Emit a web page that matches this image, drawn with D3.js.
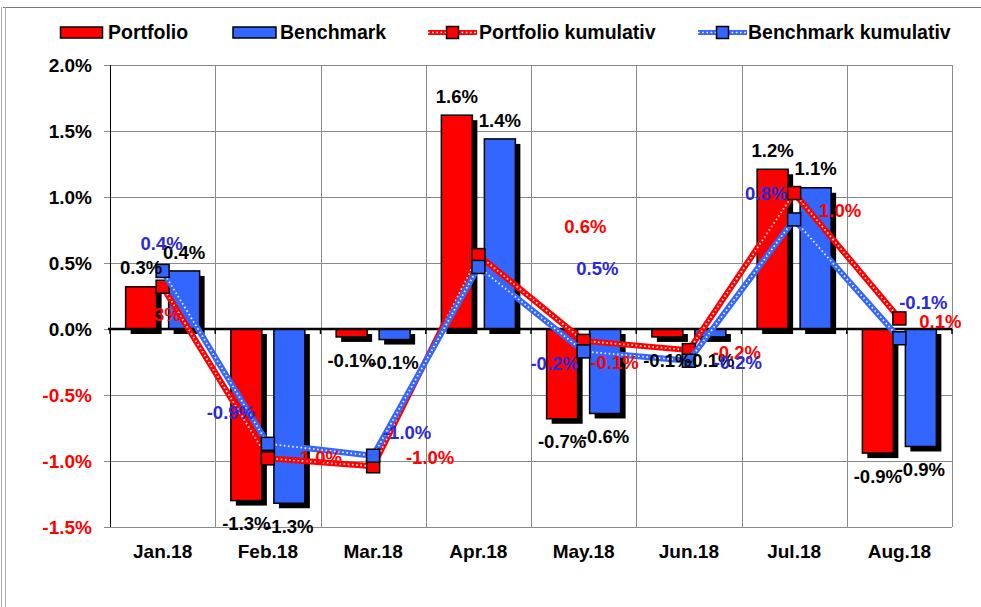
<!DOCTYPE html>
<html>
<head>
<meta charset="utf-8">
<script src="https://cdn.jsdelivr.net/npm/d3@7"></script>
<style>
  html, body { margin: 0; padding: 0; background: #fff; }
  svg { display: block; font-family: "Liberation Sans", Arial, Helvetica, sans-serif; font-weight: bold; }
</style>
</head>
<body>
<svg id="chart" width="981" height="607"></svg>
<script>
// ---- data ----
const categories = ["Jan.18", "Feb.18", "Mar.18", "Apr.18", "May.18", "Jun.18", "Jul.18", "Aug.18"];
const portfolio = [0.32, -1.30, -0.06, 1.62, -0.68, -0.06, 1.21, -0.94];
const benchmark = [0.44, -1.32, -0.08, 1.44, -0.64, -0.06, 1.07, -0.89];
const portfolioCum = [0.32, -0.98, -1.04, 0.56, -0.09, -0.16, 1.03, 0.08];
const benchmarkCum = [0.44, -0.87, -0.96, 0.47, -0.17, -0.24, 0.83, -0.07];
const yTicks = [-1.5, -1.0, -0.5, 0.0, 0.5, 1.0, 1.5, 2.0];
const legendLabels = ["Portfolio", "Benchmark", "Portfolio kumulativ", "Benchmark kumulativ"];
// label placement offsets (px) for the cumulative labels, relative to each marker
const portfolioCumLabelOffset = [[-3, 28], [50, -1], [57, -9], [107, -29], [31, 21], [48, 2], [46, 17], [41, 3]];
const benchmarkCumLabelOffset = [[-1, -28], [-37, -32], [34, -23], [119, 1], [-29, 12], [49, 2], [-28, -26], [24, -36]];

// ---- setup ----
const svg = d3.select("#chart");
const RED = "#ff0000", BLUE = "#3366ff", BLUE_TXT = "#2a2ad8";
const plot = { left: 110, right: 952, top: 65, bottom: 527 };
const fmt = d3.formatLocale({ decimal: ".", thousands: ",", grouping: [3], currency: ["", ""], minus: "-" }).format(".1%");
const pct = v => fmt(v / 100);

const x = d3.scaleBand().domain(categories).range([plot.left, plot.right]).padding(0);
const y = d3.scaleLinear().domain([-1.5, 2.0]).range([plot.bottom, plot.top]);
const cx = c => x(c) + x.bandwidth() / 2;
const barW = 31, barOff = 21.5, shadow = 5;

// frame
svg.append("line").attr("x1", 3).attr("x2", 981).attr("y1", 7.5).attr("y2", 7.5).attr("stroke", "#777").attr("stroke-width", 1);
svg.append("line").attr("x1", 1.5).attr("x2", 1.5).attr("y1", 7).attr("y2", 607).attr("stroke", "#aaa").attr("stroke-width", 1);
svg.append("line").attr("x1", 5.5).attr("x2", 5.5).attr("y1", 7).attr("y2", 607).attr("stroke", "#aaa").attr("stroke-width", 1);

// gridlines
const grid = svg.append("g").attr("stroke", "#8a8a8a").attr("stroke-width", 1);
yTicks.forEach(t => {
  grid.append("line").attr("x1", plot.left - 6).attr("x2", plot.right)
    .attr("y1", Math.round(y(t)) + 0.5).attr("y2", Math.round(y(t)) + 0.5);
});
categories.forEach(c => {
  const xx = Math.round(x(c) + x.bandwidth()) + 0.5;
  grid.append("line").attr("x1", xx).attr("x2", xx).attr("y1", plot.top).attr("y2", plot.bottom);
});

// y axis line
svg.append("line").attr("x1", plot.left + 0.5).attr("x2", plot.left + 0.5)
  .attr("y1", plot.top).attr("y2", plot.bottom).attr("stroke", "#000").attr("stroke-width", 1);

// y tick labels
svg.append("g").selectAll("text").data(yTicks).join("text")
  .attr("x", 92).attr("y", d => y(d)).attr("dy", "0.36em")
  .attr("text-anchor", "end").attr("font-size", 19)
  .attr("fill", d => d < 0 ? RED : "#000")
  .text(d => pct(d));

// x labels
svg.append("g").selectAll("text").data(categories).join("text")
  .attr("x", d => cx(d)).attr("y", 551).attr("dy", "0.36em")
  .attr("text-anchor", "middle").attr("font-size", 19).attr("fill", "#000")
  .text(d => d);

// bars
function drawBars(values, off, color) {
  const g = svg.append("g");
  const rect = (d, i) => {
    const v = values[i];
    return { x: cx(categories[i]) + off - barW / 2, y: Math.min(y(v), y(0)), h: Math.abs(y(v) - y(0)) };
  };
  g.selectAll("rect.sh").data(values).join("rect").attr("class", "sh")
    .attr("x", (d, i) => rect(d, i).x + shadow).attr("y", (d, i) => rect(d, i).y + shadow)
    .attr("width", barW).attr("height", (d, i) => rect(d, i).h).attr("fill", "#000");
  g.selectAll("rect.bar").data(values).join("rect").attr("class", "bar")
    .attr("x", (d, i) => rect(d, i).x).attr("y", (d, i) => rect(d, i).y)
    .attr("width", barW).attr("height", (d, i) => rect(d, i).h)
    .attr("fill", color).attr("stroke", "#000").attr("stroke-width", 1.5);
}
drawBars(portfolio, -barOff, RED);
drawBars(benchmark, barOff, BLUE);

// zero line + ticks
svg.append("line").attr("x1", plot.left - 2).attr("x2", plot.right)
  .attr("y1", y(0)).attr("y2", y(0)).attr("stroke", "#000").attr("stroke-width", 2.5);
svg.append("g").selectAll("line").data([plot.left].concat(categories.map(c => x(c) + x.bandwidth()))).join("line")
  .attr("x1", d => d).attr("x2", d => d).attr("y1", y(0)).attr("y2", y(0) + 5)
  .attr("stroke", "#000").attr("stroke-width", 1.5);

// cumulative lines
function drawLine(values, color) {
  const pts = values.map((v, i) => [cx(categories[i]), y(v)]);
  const line = d3.line();
  svg.append("path").attr("d", line(pts)).attr("fill", "none")
    .attr("stroke", color).attr("stroke-width", 6).attr("stroke-linejoin", "round");
  svg.append("path").attr("d", line(pts)).attr("fill", "none")
    .attr("stroke", "#fff").attr("stroke-width", 1.8).attr("stroke-dasharray", "1.6 2.6").attr("opacity", 0.9);
  svg.append("g").selectAll("rect").data(pts).join("rect")
    .attr("x", d => d[0] - 6.5).attr("y", d => d[1] - 6.5).attr("width", 13).attr("height", 13)
    .attr("fill", color).attr("stroke", "#000").attr("stroke-width", 1.5);
}
drawLine(portfolioCum, RED);
drawLine(benchmarkCum, BLUE);

// bar labels
function barLabels(values, off) {
  svg.append("g").selectAll("text").data(values).join("text")
    .attr("x", (d, i) => cx(categories[i]) + off)
    .attr("y", d => d >= 0 ? y(d) - 19 : y(d) + 23)
    .attr("dy", "0.36em").attr("text-anchor", "middle").attr("font-size", 18.5).attr("fill", "#000")
    .text(d => pct(d));
}
barLabels(portfolio, -barOff);
barLabels(benchmark, barOff);

// cumulative labels
function cumLabels(values, offsets, color) {
  svg.append("g").selectAll("text").data(values).join("text")
    .attr("x", (d, i) => cx(categories[i]) + offsets[i][0])
    .attr("y", (d, i) => y(d) + offsets[i][1])
    .attr("dy", "0.36em").attr("text-anchor", "middle").attr("font-size", 18.5).attr("fill", color)
    .text(d => pct(d));
}
cumLabels(portfolioCum, portfolioCumLabelOffset, RED);
cumLabels(benchmarkCum, benchmarkCumLabelOffset, BLUE_TXT);

// legend
const lg = svg.append("g").attr("font-size", 19.5);
lg.append("rect").attr("x", 60.5).attr("y", 27).attr("width", 42).attr("height", 11).attr("fill", RED).attr("stroke", "#000").attr("stroke-width", 1.5);
lg.append("text").attr("x", 108).attr("y", 39).text(legendLabels[0]);
lg.append("rect").attr("x", 233).attr("y", 27).attr("width", 43).attr("height", 11).attr("fill", BLUE).attr("stroke", "#000").attr("stroke-width", 1.5);
lg.append("text").attr("x", 280).attr("y", 39).text(legendLabels[1]);
function legLine(x0, x1, color) {
  lg.append("line").attr("x1", x0).attr("x2", x1).attr("y1", 32.5).attr("y2", 32.5).attr("stroke", color).attr("stroke-width", 5);
  lg.append("line").attr("x1", x0).attr("x2", x1).attr("y1", 32.5).attr("y2", 32.5).attr("stroke", "#fff").attr("stroke-width", 1.6).attr("stroke-dasharray", "1.6 2.6");
  const m = (x0 + x1) / 2;
  lg.append("rect").attr("x", m - 6).attr("y", 26.5).attr("width", 12).attr("height", 12).attr("fill", color).attr("stroke", "#000").attr("stroke-width", 1.5);
}
legLine(428, 477, RED);
lg.append("text").attr("x", 479).attr("y", 39).text(legendLabels[2]);
legLine(698, 747, BLUE);
lg.append("text").attr("x", 748).attr("y", 39).text(legendLabels[3]);
</script>
</body>
</html>
